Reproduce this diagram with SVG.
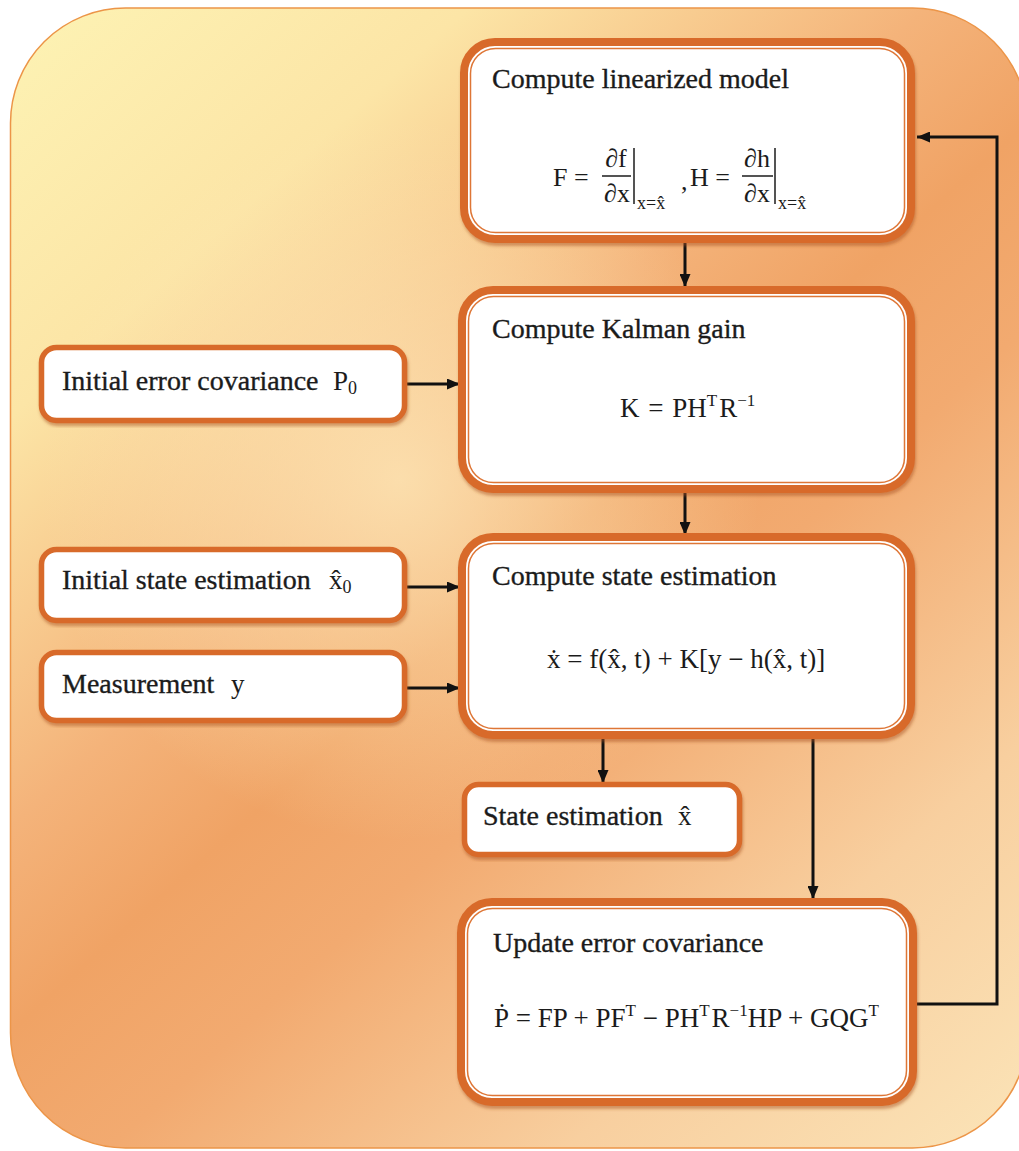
<svg xmlns="http://www.w3.org/2000/svg" width="1019" height="1151" viewBox="0 0 1019 1151">
  <defs>
    <linearGradient id="bgGrad" gradientUnits="userSpaceOnUse" x1="10" y1="8" x2="1027" y2="1147">
      <stop offset="0" stop-color="#fdf3b4"/>
      <stop offset="0.2" stop-color="#fce5a6"/>
      <stop offset="0.4" stop-color="#f4b37a"/>
      <stop offset="0.5" stop-color="#f0a365"/>
      <stop offset="0.6" stop-color="#f2aa70"/>
      <stop offset="0.8" stop-color="#f8cf9f"/>
      <stop offset="1" stop-color="#fbe4b8"/>
    </linearGradient>
    <radialGradient id="glow" gradientUnits="userSpaceOnUse" cx="400" cy="480" r="360">
      <stop offset="0" stop-color="#fde8b8" stop-opacity="0.8"/>
      <stop offset="0.6" stop-color="#fde8b8" stop-opacity="0.35"/>
      <stop offset="1" stop-color="#fde8b8" stop-opacity="0"/>
    </radialGradient>
    <filter id="shadow" x="-5%" y="-5%" width="110%" height="115%">
      <feDropShadow dx="1" dy="3" stdDeviation="1.5" flood-color="#a9511a" flood-opacity="0.5"/>
    </filter>
    <marker id="arrow" markerUnits="userSpaceOnUse" markerWidth="13" markerHeight="11" refX="13" refY="5.5" orient="auto">
      <path d="M0,0 L13,5.5 L0,11 z" fill="#111"/>
    </marker>
    <style>
      .txt { font-family: "Liberation Serif", "DejaVu Serif", serif; font-size: 28px; fill: #1b1b1b; stroke: #1b1b1b; stroke-width: 0.35; }
      .math { font-family: "Liberation Serif", "DejaVu Serif", serif; font-size: 27px; fill: #1b1b1b; }
      .frac { font-family: "Liberation Serif", "DejaVu Serif", serif; font-size: 26px; fill: #1b1b1b; }
      .sub { font-size: 18px; }
      .sup { font-size: 17px; }
      .main-outer { fill: #ffffff; stroke: #d86b2a; stroke-width: 8; }
      .main-inner { fill: none; stroke: #de7636; stroke-width: 1.5; }
      .small-box { fill: #ffffff; stroke: #d86b2a; stroke-width: 5.5; }
      .rule { stroke: #1b1b1b; stroke-width: 1.5; }
      .conn { fill: none; stroke: #111; stroke-width: 3; }
    </style>
  </defs>

  <!-- background panel -->
  <rect x="10.5" y="8" width="1017" height="1140" rx="115" ry="115" fill="url(#bgGrad)" stroke="#ec9548" stroke-width="1.5"/>
  <rect x="10.5" y="8" width="1017" height="1140" rx="115" ry="115" fill="url(#glow)"/>

  <!-- connectors -->
  <g id="connectors">
    <line class="conn" x1="685" y1="242" x2="685" y2="287" marker-end="url(#arrow)"/>
    <line class="conn" x1="685" y1="493" x2="685" y2="535" marker-end="url(#arrow)"/>
    <line class="conn" x1="407" y1="384" x2="460" y2="384" marker-end="url(#arrow)"/>
    <line class="conn" x1="407" y1="587" x2="460" y2="587" marker-end="url(#arrow)"/>
    <line class="conn" x1="407" y1="688" x2="460" y2="688" marker-end="url(#arrow)"/>
    <line class="conn" x1="603" y1="739" x2="603" y2="783" marker-end="url(#arrow)"/>
    <line class="conn" x1="813" y1="739" x2="813" y2="899" marker-end="url(#arrow)"/>
    <path class="conn" d="M917,1004 H997 V137 H917" marker-end="url(#arrow)"/>
  </g>

  <!-- Compute linearized model -->
  <g id="node-linearize">
    <rect class="main-outer" x="464" y="42" width="447" height="197" rx="31" filter="url(#shadow)"/>
    <rect class="main-inner" x="470.5" y="48.5" width="434" height="184" rx="25"/>
    <text class="txt" x="492" y="88">Compute linearized model</text>
    <g class="frac">
      <text x="553" y="186">F =</text>
      <text x="616" y="167" text-anchor="middle">∂f</text>
      <line class="rule" x1="602" y1="176" x2="631" y2="176"/>
      <text x="617" y="202" text-anchor="middle">∂x</text>
      <line class="rule" x1="634" y1="148" x2="634" y2="204"/>
      <text class="sub" x="637" y="209">x=x&#x302;</text>
      <text x="681" y="190">,</text>
      <text x="690" y="186">H =</text>
      <text x="757" y="167" text-anchor="middle">∂h</text>
      <line class="rule" x1="742" y1="176" x2="773" y2="176"/>
      <text x="757" y="202" text-anchor="middle">∂x</text>
      <line class="rule" x1="775" y1="148" x2="775" y2="204"/>
      <text class="sub" x="778" y="209">x=x&#x302;</text>
    </g>
  </g>

  <!-- Compute Kalman gain -->
  <g id="node-gain">
    <rect class="main-outer" x="462" y="290" width="449" height="199" rx="31" filter="url(#shadow)"/>
    <rect class="main-inner" x="468.5" y="296.5" width="436" height="186" rx="25"/>
    <text class="txt" x="492" y="338">Compute Kalman gain</text>
    <text class="math" x="620" y="417" word-spacing="2">K = PH<tspan class="sup" dy="-11">T</tspan><tspan dy="11" dx="2">R</tspan><tspan class="sup" dy="-11">−1</tspan></text>
  </g>

  <!-- Compute state estimation -->
  <g id="node-state">
    <rect class="main-outer" x="462" y="537" width="449" height="198" rx="31" filter="url(#shadow)"/>
    <rect class="main-inner" x="468.5" y="543.5" width="436" height="185" rx="25"/>
    <text class="txt" x="492" y="585">Compute state estimation</text>
    <text class="math" x="547" y="668">x&#x307; = f(x&#x302;, t) + K[y − h(x&#x302;, t)]</text>
  </g>

  <!-- Update error covariance -->
  <g id="node-covariance">
    <rect class="main-outer" x="461" y="902" width="452" height="200" rx="31" filter="url(#shadow)"/>
    <rect class="main-inner" x="467.5" y="908.5" width="439" height="187" rx="25"/>
    <text class="txt" x="493" y="952">Update error covariance</text>
    <text class="math" x="494" y="1027">P&#x307; = FP + PF<tspan class="sup" dy="-11">T</tspan><tspan dy="11"> − PH</tspan><tspan class="sup" dy="-11">T</tspan><tspan dy="11" dx="2">R</tspan><tspan class="sup" dy="-11">−1</tspan><tspan dy="11">HP + GQG</tspan><tspan class="sup" dy="-11">T</tspan></text>
  </g>

  <!-- Initial error covariance -->
  <g id="node-p0">
    <rect class="small-box" x="41.5" y="347.5" width="363" height="73" rx="15" filter="url(#shadow)"/>
    <text class="txt" x="62" y="390">Initial error covariance</text>
    <text class="math" x="333" y="390">P<tspan class="sub" dy="4">0</tspan></text>
  </g>

  <!-- Initial state estimation -->
  <g id="node-x0">
    <rect class="small-box" x="41.5" y="549.5" width="363" height="71" rx="15" filter="url(#shadow)"/>
    <text class="txt" x="62" y="589">Initial state estimation</text>
    <text class="math" x="329" y="589">x&#x302;<tspan class="sub" dy="4">0</tspan></text>
  </g>

  <!-- Measurement -->
  <g id="node-y">
    <rect class="small-box" x="41.5" y="652.5" width="363" height="68" rx="15" filter="url(#shadow)"/>
    <text class="txt" x="62" y="693">Measurement</text>
    <text class="math" x="231" y="693">y</text>
  </g>

  <!-- State estimation output -->
  <g id="node-xhat">
    <rect class="small-box" x="464.5" y="784.5" width="275" height="70" rx="14" filter="url(#shadow)"/>
    <text class="txt" x="483" y="825">State estimation</text>
    <text class="math" x="678" y="825">x&#x302;</text>
  </g>
</svg>
